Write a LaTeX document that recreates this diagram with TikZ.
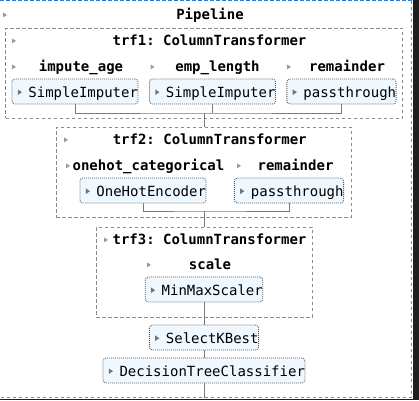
\documentclass[tikz,border=0pt]{standalone}
\usepackage{fontspec}
\setmonofont{DejaVu Sans Mono}
\definecolor{boxfill}{HTML}{F0F8FF}
\definecolor{boxborder}{HTML}{5A5A5A}
\definecolor{boxtri}{HTML}{757575}
\definecolor{lbltri}{HTML}{999999}
\definecolor{contgray}{HTML}{8A8A8A}
\definecolor{conngray}{HTML}{7A7A7A}
\definecolor{focusblue}{HTML}{2A7FD8}
\definecolor{darkbg}{HTML}{1F1F1F}
\newcommand{\btri}{\tikz[baseline=0pt,sharp corners,solid,line width=0pt]\fill[boxtri] (0pt,2pt) -- (0pt,7.6pt) -- (4.2pt,4.8pt) -- cycle;}
\newcommand{\ltri}{\tikz[baseline=0pt,sharp corners,solid,line width=0pt]\fill[lbltri] (0pt,1.8pt) -- (0pt,6.4pt) -- (3.8pt,4.1pt) -- cycle;}
\newcommand{\est}[1]{\hspace{5.8pt}\btri\hspace{6.5pt}#1\hspace{6pt}}
\tikzset{
  estbox/.style={draw=boxborder, fill=boxfill, rounded corners=3pt,
    dash pattern=on 1pt off 1pt, line width=0.8pt, minimum height=25pt,
    inner xsep=0pt, inner ysep=0pt, text height=11pt, text depth=0pt,
    font=\fontsize{14}{16}\selectfont\ttfamily},
  lbl/.style={anchor=base, inner sep=0pt, font=\fontsize{14}{16}\selectfont\ttfamily\bfseries},
  lt/.style={anchor=base west, inner sep=0pt},
  cont/.style={draw=contgray, line width=1pt, dash pattern=on 3.5pt off 2.5pt, inner sep=0pt},
  conn/.style={draw=conngray, line width=1pt},
}
\begin{document}
\begin{tikzpicture}[x=1pt,y=-1pt]
\useasboundingbox (0,0) rectangle (419,400);
% background strips
\fill[darkbg] (413,0) rectangle (419,400);
\fill[darkbg] (0,399) rectangle (419,400);
% outer frame
\coordinate (otl) at (0,0.75);
\coordinate (otr) at (411.5,0.75);
\coordinate (obr) at (411.5,397.5);
\coordinate (obl) at (0,397.5);
\draw[focusblue, line width=1.3pt, dash pattern=on 3.5pt off 2.5pt] (otl) -- (otr);
\draw[contgray, line width=1pt, dash pattern=on 3.5pt off 2.5pt] (otr) -- (obr) -- (obl);

% containers
\node[cont, minimum width=397pt, minimum height=90pt] (trf1) at (204,73) {};
\node[cont, minimum width=295pt, minimum height=90pt] (trf2) at (203.5,172) {};
\node[cont, minimum width=216pt, minimum height=90pt] (trf3) at (204,272) {};

% labels
\node[lt] (t0) at (3,19) {\ltri};
\node[lbl] (pipe) at (210,19) {Pipeline};
\node[lt] (t1) at (12,45) {\ltri};
\node[lbl] (l1) at (209.5,45) {trf1: ColumnTransformer};
\node[lt] (t1a) at (12,71) {\ltri};
\node[lbl] (l1a) at (81,71) {impute\_age};
\node[lt] (t1b) at (150.5,71) {\ltri};
\node[lbl] (l1b) at (217.5,71) {emp\_length};
\node[lt] (t1c) at (287,71) {\ltri};
\node[lbl] (l1c) at (347,71) {remainder};
\node[lt] (t2) at (64,144) {\ltri};
\node[lbl] (l2) at (209.7,144) {trf2: ColumnTransformer};
\node[lt] (t2a) at (66,170) {\ltri};
\node[lbl] (l2a) at (148.5,170) {onehot\_categorical};
\node[lt] (t2b) at (237,170) {\ltri};
\node[lbl] (l2b) at (295.5,170) {remainder};
\node[lt] (t3) at (104,244) {\ltri};
\node[lbl] (l3) at (209.5,244) {trf3: ColumnTransformer};
\node[lt] (t3a) at (147,269) {\ltri};
\node[lbl] (l3a) at (210,269) {scale};

% estimators
\node[estbox] (si1) at (75,91.5) {\est{SimpleImputer}};
\node[estbox] (si2) at (212.5,91.5) {\est{SimpleImputer}};
\node[estbox] (pt1) at (341.5,91.5) {\est{passthrough}};
\node[estbox] (ohe) at (143,190.5) {\est{OneHotEncoder}};
\node[estbox] (pt2) at (289,190.5) {\est{passthrough}};
\node[estbox] (mms) at (204,289.5) {\est{MinMaxScaler}};
\node[estbox] (skb) at (204,337.5) {\est{SelectKBest}};
\node[estbox] (dtc) at (204,370.5) {\est{DecisionTreeClassifier}};

% connectors
\coordinate (h1) at (204,113);
\coordinate (h2) at (204,211);
\draw[conn] (si1.south) |- (h1) -| (pt1.south);
\draw[conn] (si2.south) -- (si2.south |- h1);
\draw[conn] (h1) -- (h1 |- trf2.north);
\draw[conn] (ohe.south) |- (h2) -| (pt2.south);
\draw[conn] (h2) -- (h2 |- trf3.north);
\draw[conn] (mms.south) -- (skb.north);
\draw[conn] (skb.south) -- (dtc.north);
\draw[conn] (dtc.south) -- (dtc.south |- obl);
\end{tikzpicture}
\end{document}
